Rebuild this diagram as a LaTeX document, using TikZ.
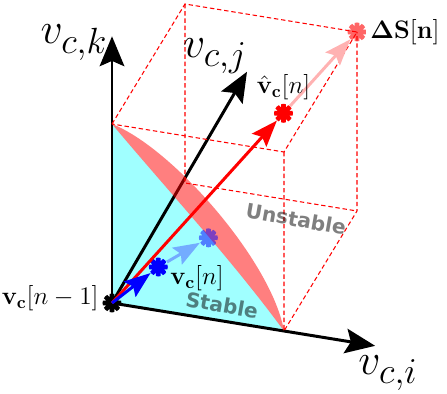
\documentclass[tikz,border=0pt]{standalone}
\usepackage{amsmath,amssymb}
\usepackage[no-math]{fontspec}
\newfontfamily\regionfont{DejaVu Sans}
\usetikzlibrary{positioning,arrows.meta}
\definecolor{lightvec}{RGB}{115,172,255}
\definecolor{stablecol}{RGB}{160,255,255}

\begin{document}
\begin{tikzpicture}[x={(3.44cm,-0.56cm)}, y={(1.46cm,2.4cm)}, z={(0cm,3.58cm)},
  axis/.style={line width=1.7pt, -{Stealth[length=17pt, width=14pt, inset=3pt]}},
  vec/.style={line width=1.7pt, -{Stealth[length=15pt, width=11pt, inset=2.5pt]}},
  cube/.style={red, line width=0.6pt, dash pattern=on 2.5pt off 1.6pt},
  mk/.style={circle, inner sep=0pt, minimum size=0.38cm, path picture={
      \draw[line width=0.095cm, #1] (path picture bounding box.center)
        +(0:0.2cm) -- +(180:0.2cm) +(45:0.2cm) -- +(225:0.2cm)
        +(90:0.2cm) -- +(270:0.2cm) +(135:0.2cm) -- +(315:0.2cm)
        +(0:0.06cm) arc[start angle=0, end angle=360, radius=0.06cm];}},
  mk/.default=black,
  region/.style={font=\regionfont\fontsize{11.5}{13}\selectfont\bfseries, text opacity=0.5, rotate=-10},
  lbl/.style={font=\Large, inner sep=1pt}]
\useasboundingbox (-2.24cm,-1.82cm) rectangle (6.70cm,6.06cm);
% corners of the box
\coordinate (o) at (0,0,0);
\coordinate (ci) at (1,0,0);
\coordinate (cj) at (0,1,0);
\coordinate (ck) at (0,0,1);
\coordinate (cij) at (1,1,0);
\coordinate (cik) at (1,0,1);
\coordinate (cjk) at (0,1,1);
\coordinate (cijk) at (1,1,1);
% axis tips
\coordinate (ti) at (1.53,0,0);
\coordinate (tj) at (-0.03,1.92,0);
\coordinate (tk) at (0,0,1.49);
% stable region and axes
\fill[stablecol] (o) -- (ck) .. controls (1.15cm,2.21cm) and (2.4cm,0.86cm) .. (ci) -- cycle;
\draw[axis] (o) -- (tk);
\draw[axis] (o) -- (ti);
\draw[axis] (o) -- (tj);
\fill[red, fill opacity=0.5] (ck) .. controls (1.22cm,3.1cm) and (3.2cm,0.82cm) .. (ci)
  .. controls (2.4cm,0.86cm) and (1.15cm,2.21cm) .. (ck) -- cycle;
\draw[cube] (ck) -- (cjk) -- (cijk) -- (cik) -- cycle;
\draw[cube] (cik) -- (ci) -- (cij) -- (cijk);
\draw[cube] (cjk) -- (cj) -- (cij);
% samples
\node[mk] (vprev) at (o) {};
\node[mk=blue] (vn) at (0.21,0.14,0.14) {};
\node[mk={blue, draw opacity=0.5}] (vnext) at (0.45,0.26,0.26) {};
\node[mk=red] (vh) at (0.7,0.7,0.7) {};
\node[mk={red, draw opacity=0.6}] (dS) at (cijk) {};
\draw[vec, red] (o) -- (vh);
\draw[vec, red!30] (vh) -- (dS);
\draw[vec, blue] (o) -- (vn);
\draw[vec, lightvec] (vn) -- (vnext);
% labels
\node[font=\Huge] (lk) at (-0.76cm,5.2cm) {$v_{c,k}$};
\node[font=\Huge] (lj) at (2.06cm,4.94cm) {$v_{c,j}$};
\node[font=\Huge] (li) at (5.52cm,-1.4cm) {$v_{c,i}$};
\node[lbl, right=0.3mm of dS] (ldS) {$\mathbf{\Delta S[n]}$};
\node[lbl, above=0.3mm of vh] (lvh) {$\hat{\mathbf{v}}_{\mathbf{c}}[n]$};
\node[lbl] (lvn) at (1.7cm,0.5cm) {$\mathbf{v}_{\mathbf{c}}[n]$};
\node[lbl, left=0.3mm of vprev, yshift=0.1cm] (lprev) {$\mathbf{v}_{\mathbf{c}}[n-1]$};
\node[region] (unst) at (3.68cm,1.68cm) {Unstable};
\node[region] (stab) at (2.2cm,-0.04cm) {Stable};
\end{tikzpicture}
\end{document}
